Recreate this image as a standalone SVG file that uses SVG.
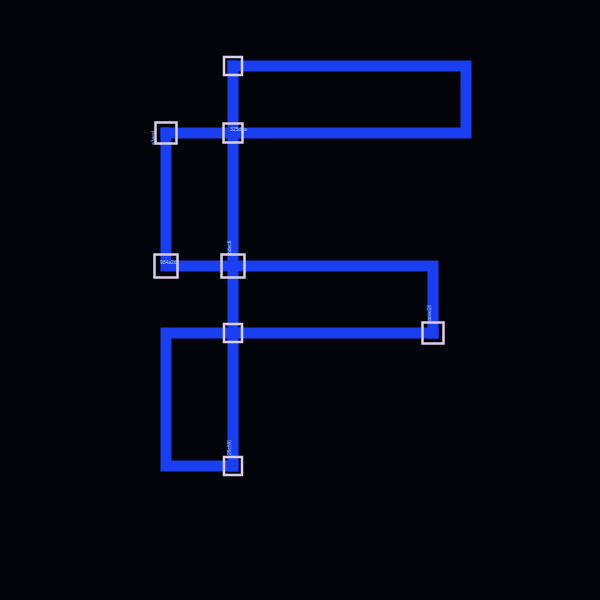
<svg xmlns="http://www.w3.org/2000/svg" width="600" height="600" viewBox="0 0 600 600">
<style>
.e{fill:none;stroke:#1a3ff0;stroke-width:11;stroke-linejoin:miter;stroke-linecap:square}
.n{fill:none;stroke:#dccdeb;stroke-width:2.5}
.t{font-family:"Liberation Sans",sans-serif;font-size:5px;fill:#b8c8f0}
</style>
<rect width="600" height="600" fill="#03040a"/>
<g id="connectors">
<path class="e" d="M233,66 H466 V133 H233"/>
<path class="e" d="M166,133 H233"/>
<path class="e" d="M233,66 V466"/>
<path class="e" d="M166,133 V266 H233"/>
<path class="e" d="M233,266 H433 V333"/>
<path class="e" d="M233,333 H433"/>
<path class="e" d="M233,333 H166 V466 H233"/>
</g>
<g id="nA"><rect class="n" x="224" y="57" width="18" height="18"/></g>
<g id="nB"><rect class="n" x="155.5" y="122.5" width="21" height="21"/><text class="t" transform="translate(155,145) rotate(-90)">a1eed</text></g>
<g id="nC"><rect class="n" x="223.5" y="123.5" width="19" height="19"/><text class="t" x="230" y="131">325d1a</text></g>
<g id="nD"><rect class="n" x="154.5" y="254.5" width="23" height="23"/><text class="t" x="160" y="264">984a26</text></g>
<g id="nE"><rect class="n" x="221.5" y="254.5" width="23" height="23"/><text class="t" transform="translate(231,254) rotate(-90)">bdec6</text></g>
<g id="nF"><rect class="n" x="422.5" y="322.5" width="21" height="21"/><text class="t" transform="translate(431,321) rotate(-90)">acee20</text></g>
<g id="nG"><rect class="n" x="224" y="324" width="18" height="18"/></g>
<g id="nH"><rect class="n" x="224" y="457" width="18" height="18"/><text class="t" transform="translate(231,455) rotate(-90)">29c5f0</text></g>
</svg>
